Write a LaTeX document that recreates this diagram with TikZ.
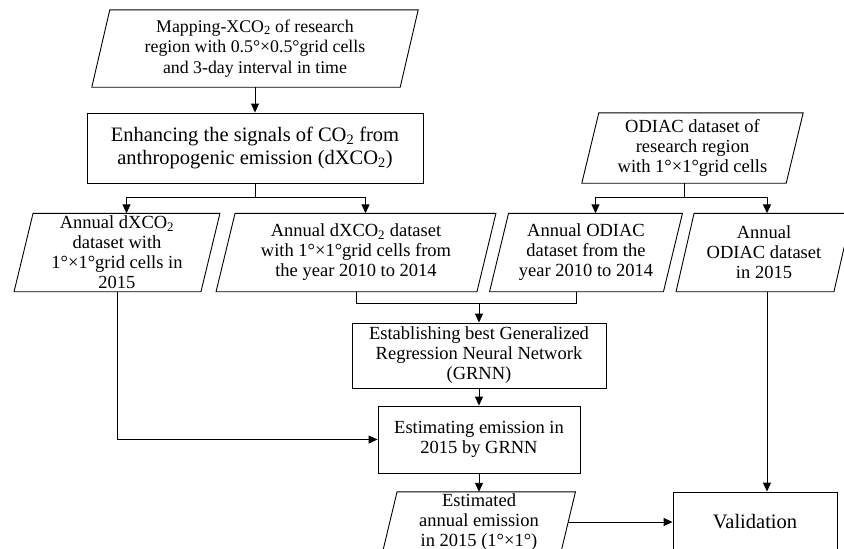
\documentclass[tikz,border=0pt]{standalone}
\usepackage{fontspec}
\setmainfont{Liberation Serif}
\usetikzlibrary{arrows.meta,calc}
\tikzset{
  txt/.style={inner sep=0pt, align=center, font=\fontsize{18.5}{20}\selectfont},
  box/.style={txt, draw, line width=0.9pt},
  conn/.style={line width=0.9pt},
  arr/.style={line width=0.9pt, -{Triangle[length=9pt,width=8pt]}},
}
\newcommand{\paraframe}[2]{%
  \draw[line width=0.9pt] ($(#1.north west)+(#2,0)$) -- ($(#1.north east)+(#2,0)$)
    -- ($(#1.south east)-(#2,0)$) -- ($(#1.south west)-(#2,0)$) -- cycle;}
\begin{document}
\begin{tikzpicture}[x=1pt,y=-1pt]
\useasboundingbox (0,0) rectangle (844,549);
\clip (0,0) rectangle (844,549);
\fill[white] (0,0) rectangle (844,549);

\node[txt, minimum width=308pt, minimum height=77pt, font=\fontsize{17.8}{20.5}\selectfont] (map) at (255,48.5)
  {Mapping-XCO\textsubscript{2} of research\\region with 0.5°×0.5°grid cells\\and 3-day interval in time};
\node[box, minimum width=336pt, minimum height=70pt, font=\fontsize{20.5}{23}\selectfont] (enh) at (255,148)
  {Enhancing the signals of CO\textsubscript{2} from\\anthropogenic emission (dXCO\textsubscript{2})};
\node[txt, minimum width=204pt, minimum height=70pt] (odiac) at (692.5,148)
  {ODIAC dataset of\\research region\\with 1°×1°grid cells};

\node[txt, minimum width=186.5pt, minimum height=78pt] (d15) at (117,252.5)
  {Annual dXCO\textsubscript{2}\\dataset with\\1°×1°grid cells in\\2015};
\node[txt, minimum width=260.5pt, minimum height=78pt] (d10) at (356,252.5)
  {Annual dXCO\textsubscript{2} dataset\\with 1°×1°grid cells from\\the year 2010 to 2014};
\node[txt, minimum width=173.5pt, minimum height=78pt] (o10) at (586,252.5)
  {Annual ODIAC\\dataset from the\\year 2010 to 2014};
\node[txt, minimum width=157.5pt, minimum height=78pt] (o15) at (764,252.5)
  {Annual\\ODIAC dataset\\in 2015};

\node[box, minimum width=254pt, minimum height=65pt] (gen) at (479,355.5)
  {Establishing best Generalized\\Regression Neural Network\\(GRNN)};
\node[box, minimum width=202pt, minimum height=67pt] (estim) at (479,439.5)
  {Estimating emission in\\2015 by GRNN};
\node[txt, minimum width=178pt, minimum height=60pt] (estd) at (479,522)
  {Estimated\\annual emission\\in 2015 (1°×1°)};
\node[box, minimum width=164pt, minimum height=60pt, font=\fontsize{20.5}{22}\selectfont] (valid) at (755,522)
  {Validation};

\paraframe{map}{9}
\paraframe{odiac}{8.5}
\paraframe{d15}{9.5}
\paraframe{d10}{9.5}
\paraframe{o10}{9.5}
\paraframe{o15}{9}
\paraframe{estd}{7.25}

% connectors
\draw[arr] (map.south) -- (enh.north);
\draw[conn] (enh.south) -- ++(0,14) coordinate (j1);
\draw[arr] (j1) -| ($(d15.north)+(9.5,0)$);
\draw[arr] (j1) -| ($(d10.north)+(9.5,0)$);

\draw[conn] ($(odiac.south)-(8.5,0)$) -- ++(0,14) coordinate (j2);
\coordinate (o15x) at ($(o15.north)+(3,0)$);
\draw[arr] (j2) -| ($(o10.north)+(9.5,0)$);
\draw[arr] (j2) -| (o15x);

\draw[conn] (d10.south) -- ++(0,12) coordinate (j3);
\draw[conn] ($(o10.south)-(9.5,0)$) |- (j3);
\draw[arr] (j3 -| gen.north) -- (gen.north);
\draw[arr] (gen.south) -- (estim.north);
\draw[arr] (d15.south) |- (estim.west);
\draw[arr] (estim.south) -- (estd.north);
\draw[arr] (estd.east) -- (valid.west);
\draw[arr] (o15x |- o15.south) -- (o15x |- valid.north);
\end{tikzpicture}
\end{document}
